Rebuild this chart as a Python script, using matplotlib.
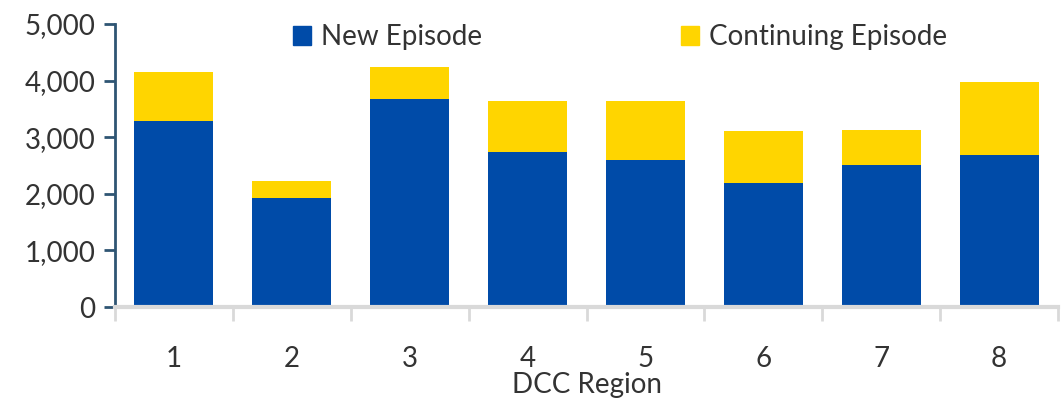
import numpy as np
import matplotlib.pyplot as plt
from matplotlib.patches import Patch
from matplotlib.ticker import FuncFormatter

plt.rcParams['font.family'] = ['Lato', 'DejaVu Sans']

regions = ['1', '2', '3', '4', '5', '6', '7', '8']
new_episode = [3290, 1930, 3680, 2740, 2600, 2190, 2510, 2690]
continuing_episode = [860, 300, 560, 900, 1040, 920, 620, 1290]

blue = '#004BA8'
yellow = '#FFD500'
txt = '#333333'

fig = plt.figure(figsize=(10.62, 4), dpi=100)
ax = fig.add_axes([0.1083, 0.2325, 0.888, 0.7075])

x = np.arange(len(regions))
ax.bar(x, new_episode, width=0.67, color=blue)
ax.bar(x, continuing_episode, width=0.67, bottom=new_episode, color=yellow)

ax.set_xlim(-0.5, len(regions) - 0.5)
ax.set_ylim(0, 5000)
ax.set_yticks(np.arange(0, 5001, 1000))
ax.yaxis.set_major_formatter(FuncFormatter(lambda v, p: f'{int(v):,}'))

ax.set_xticks(x)
ax.set_xticklabels(regions)
ax.set_xticks(np.arange(-0.5, len(regions)), minor=True)
ax.tick_params(axis='x', which='major', length=0, pad=28, labelsize=20, labelcolor=txt)
ax.tick_params(axis='x', which='minor', length=10, width=2, color='#d9d9d9', direction='out')
ax.tick_params(axis='y', length=8, width=2, color='#2F5573', labelsize=20, labelcolor=txt, pad=6)

for s in ['top', 'right']:
    ax.spines[s].set_visible(False)
ax.spines['left'].set_color('#2F5573')
ax.spines['left'].set_linewidth(2)
ax.spines['bottom'].set_color('#d9d9d9')
ax.spines['bottom'].set_linewidth(3)

ax.set_xlabel('DCC Region', fontsize=20, color=txt, labelpad=0)

handles = [Patch(color=blue, label='New Episode'), Patch(color=yellow, label='Continuing Episode')]
fig.legend(handles=handles, loc='center', bbox_to_anchor=(620 / 1062, 1 - 37 / 400), ncol=2,
           frameon=False, fontsize=20, handlelength=0.65, handleheight=0.65,
           handletextpad=0.36, columnspacing=7.15, labelcolor=txt)

fig.savefig('out.png', dpi=100)
